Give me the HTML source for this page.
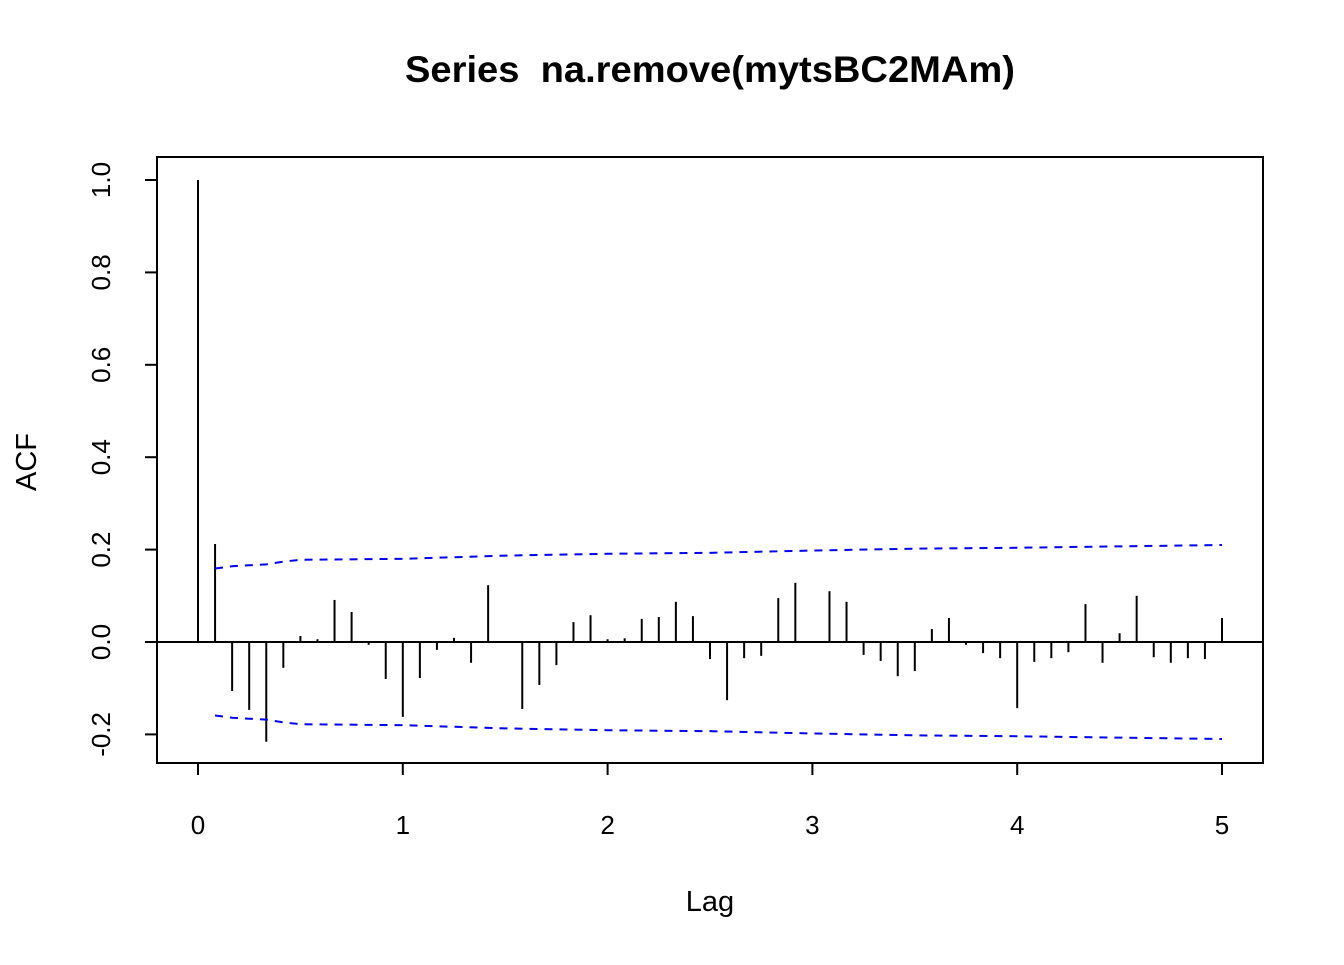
<!DOCTYPE html>
<html><head><meta charset="utf-8"><style>
body{margin:0;background:#fff;}
svg text{font-family:"Liberation Sans",Arial,sans-serif;}
</style></head><body>
<svg id="chart" width="1344" height="960" viewBox="0 0 1344 960" xmlns="http://www.w3.org/2000/svg">
<rect width="1344" height="960" fill="#fff"/>
<text x="710" y="82" text-anchor="middle" font-size="37" font-weight="bold" textLength="610" lengthAdjust="spacingAndGlyphs" style="white-space:pre">Series &#160;na.remove(mytsBC2MAm)</text>
<text x="710" y="911" text-anchor="middle" font-size="29">Lag</text>
<text transform="translate(36,462) rotate(-90)" text-anchor="middle" font-size="29">ACF</text>
<rect x="157" y="157" width="1106" height="606" fill="none" stroke="#000" stroke-width="2"/>
<g id="g"></g>
</svg>
<script>
const acf=[1.0,0.212,-0.106,-0.147,-0.216,-0.056,0.013,0.006,0.091,0.065,-0.006,-0.08,-0.162,-0.078,-0.017,0.009,-0.045,0.123,0.002,-0.145,-0.093,-0.05,0.043,0.058,0.006,0.008,0.05,0.054,0.087,0.056,-0.037,-0.126,-0.035,-0.03,0.095,0.128,-0.002,0.11,0.087,-0.028,-0.041,-0.074,-0.063,0.028,0.052,-0.006,-0.024,-0.035,-0.143,-0.043,-0.035,-0.022,0.082,-0.045,0.019,0.1,-0.033,-0.045,-0.035,-0.037,0.052];
const bandLags=[1/12,2/12,3/12,4/12,5/12,0.5,1,1.5,2,2.5,3,3.5,4,4.5,5];
const bandVals=[0.159,0.164,0.166,0.168,0.174,0.178,0.18,0.187,0.191,0.193,0.198,0.202,0.204,0.207,0.21];
const xTicks=[0,1,2,3,4,5];
const yTicks=[-0.2,0,0.2,0.4,0.6,0.8,1.0];
const X=v=>198+v*204.8, Y=v=>642-v*462;
const g=document.getElementById('g'),NS='http://www.w3.org/2000/svg';
function mk(t,a){const e=document.createElementNS(NS,t);for(const k in a)e.setAttribute(k,a[k]);g.appendChild(e);return e;}
xTicks.forEach(t=>{
 const l=mk('line',{x1:X(t),x2:X(t),y1:763,y2:775,stroke:'#000','stroke-width':2});
 
 
 const tx=mk('text',{x:X(t),y:834,'text-anchor':'middle','font-size':26});tx.textContent=t;
 
 
});
yTicks.forEach(t=>{
 const l=mk('line',{x1:145,x2:157,y1:Y(t),y2:Y(t),stroke:'#000','stroke-width':2});
 
 
 const tx=mk('text',{transform:`translate(110,${Y(t)}) rotate(-90)`,'text-anchor':'middle','font-size':26});tx.textContent=t.toFixed(1);
 
 
});
const z=mk('line',{x1:157,x2:1263,y1:Y(0),y2:Y(0),stroke:'#000','stroke-width':2});


acf.forEach((v,i)=>{
 const l=mk('line',{x1:X(i/12),x2:X(i/12),y1:Y(0),y2:Y(v),stroke:'#000','stroke-width':2});
 
 
});
[1,-1].forEach(s=>{
 const p=mk('polyline',{points:bandLags.map((l,i)=>X(l)+','+Y(s*bandVals[i])).join(' '),fill:'none',stroke:'#0000ee','stroke-width':2,'stroke-dasharray':'8,7'});
 
 
});
</script>
</body></html>
